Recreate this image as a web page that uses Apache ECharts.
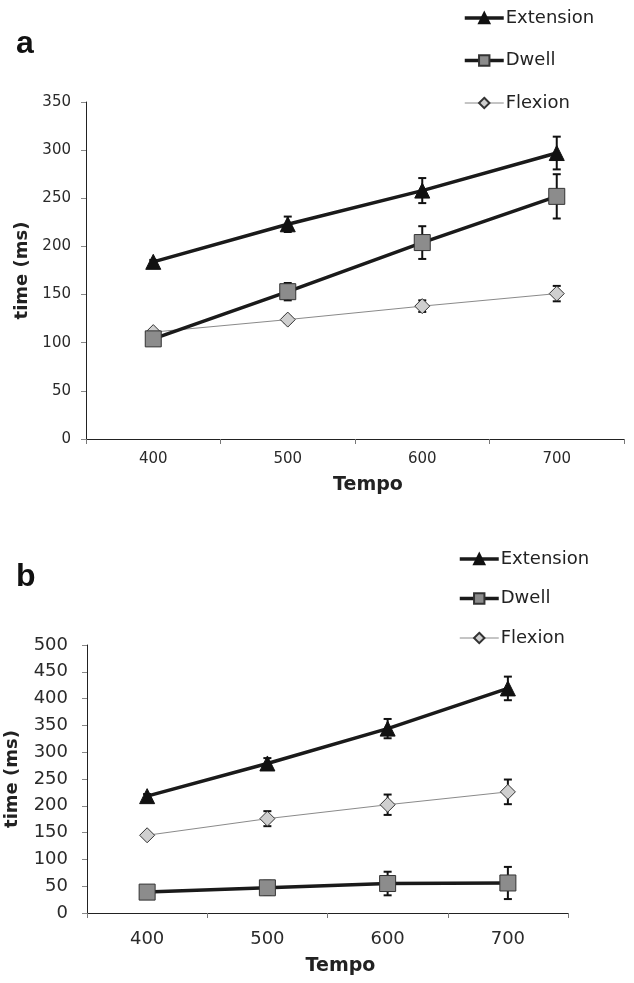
<!DOCTYPE html>
<html><head><meta charset="utf-8">
<script src="https://cdn.jsdelivr.net/npm/echarts@6/dist/echarts.min.js"></script>
<style>html,body{margin:0;padding:0;background:#fff}#c{width:634px;height:983px}</style>
</head><body><div id="c"></div>
<script>
const tempo = ['400', '500', '600', '700'];
const seriesNames = ['Extension', 'Dwell', 'Flexion'];
// panel a
const extA = [184, 223, 258, 297];
const extAErr = [2, 8, 13, 17];
const dwellA = [104, 153, 204, 252];
const dwellAErr = [2, 9, 17, 23];
const flexA = [111, 124, 138, 151];
const flexAErr = [2, 3, 6, 8];
// panel b
const extB = [218, 279, 344, 419];
const extBErr = [4, 10, 18, 22];
const dwellB = [39, 47, 55, 56];
const dwellBErr = [2, 13, 22, 30];
const flexB = [145, 176, 202, 226];
const flexBErr = [2, 14, 19, 23];

const FONT = 'DejaVu Sans';
const styles = {
  Extension: {symbol: 'triangle', symbolSize: 15, color: '#111', border: '#111', width: 3.5, lineColor: '#1a1a1a'},
  Dwell: {symbol: 'rect', symbolSize: 16, color: '#8c8c8c', border: '#333', width: 3.5, lineColor: '#1a1a1a'},
  Flexion: {symbol: 'diamond', symbolSize: 15, color: '#cfcfcf', border: '#333', width: 1, lineColor: '#8a8a8a'}
};

function lineSeries(name, data, gi) {
  const s = styles[name];
  return {
    name: name, type: 'line', xAxisIndex: gi, yAxisIndex: gi, data: data,
    symbol: s.symbol, symbolSize: s.symbolSize, z: 3,
    lineStyle: {color: s.lineColor, width: s.width},
    itemStyle: {color: s.color, borderColor: s.border, borderWidth: 1},
    emphasis: {disabled: true}, animation: false
  };
}
function errSeries(vals, errs, gi) {
  return {
    type: 'custom', xAxisIndex: gi, yAxisIndex: gi, z: 2, animation: false,
    data: vals.map((v, i) => [i, v - errs[i], v + errs[i]]),
    renderItem: function (params, api) {
      const lo = api.coord([api.value(0), api.value(1)]);
      const hi = api.coord([api.value(0), api.value(2)]);
      const w = 4;
      const st = {stroke: '#111', lineWidth: 2};
      return {type: 'group', children: [
        {type: 'line', shape: {x1: lo[0], y1: lo[1], x2: hi[0], y2: hi[1]}, style: st},
        {type: 'line', shape: {x1: lo[0] - w, y1: lo[1], x2: lo[0] + w, y2: lo[1]}, style: st},
        {type: 'line', shape: {x1: hi[0] - w, y1: hi[1], x2: hi[0] + w, y2: hi[1]}, style: st}
      ]};
    }
  };
}

function xAxis(gi, labelSize, margin, gap) {
  return {
    type: 'category', gridIndex: gi, data: tempo, boundaryGap: true,
    name: 'Tempo', nameLocation: 'middle', nameGap: gap,
    nameTextStyle: {fontFamily: FONT, fontWeight: 'bold', fontSize: 19, color: '#222', padding: [0, 0, 0, 26]},
    axisLine: {lineStyle: {color: '#222', width: 1}},
    axisTick: {show: true, length: 5, lineStyle: {color: '#777'}},
    axisLabel: {fontFamily: FONT, fontSize: labelSize, color: '#2a2a2a', margin: margin},
    splitLine: {show: false}
  };
}
function yAxis(gi, max, labelSize, margin, gap) {
  return {
    type: 'value', gridIndex: gi, min: 0, max: max, interval: 50,
    name: 'time (ms)', nameLocation: 'middle', nameGap: gap, nameRotate: 90,
    nameTextStyle: {fontFamily: FONT, fontWeight: 'bold', fontSize: 18, color: '#222'},
    axisLine: {show: true, lineStyle: {color: '#222', width: 1}},
    axisTick: {show: true, length: 5, lineStyle: {color: '#888'}},
    axisLabel: {fontFamily: FONT, fontSize: labelSize, color: '#2a2a2a', margin: margin},
    splitLine: {show: false}
  };
}
function legend(left, top, gap) {
  return {
    data: seriesNames.map(n => ({name: n, lineStyle: {width: styles[n].width, color: styles[n].lineColor}})),
    orient: 'vertical', left: left, top: top, itemGap: gap, padding: 0,
    itemWidth: 39, itemHeight: 13, selectedMode: false,
    textStyle: {fontFamily: FONT, fontSize: 18, lineHeight: 20, color: '#222', padding: [0, 0, 0, -3]}
  };
}

const chart = echarts.init(document.getElementById('c'), null, {renderer: 'canvas'});
chart.setOption({
  backgroundColor: '#fff',
  animation: false,
  title: [
    {text: 'a', left: 11, top: 23, textStyle: {fontFamily: 'Liberation Sans', fontWeight: 'bold', fontSize: 32, color: '#111'}},
    {text: 'b', left: 11, top: 556, textStyle: {fontFamily: 'Liberation Sans', fontWeight: 'bold', fontSize: 32, color: '#111'}}
  ],
  legend: [legend(463, 8, 22.5), legend(458, 549, 19.5)],
  grid: [
    {left: 86, right: 10, top: 102, height: 337, outerBoundsMode: 'none', containLabel: false},
    {left: 87, right: 66, top: 645, height: 268, outerBoundsMode: 'none', containLabel: false}
  ],
  xAxis: [xAxis(0, 15, 13, 37), xAxis(1, 18, 17, 44)],
  yAxis: [yAxis(0, 350, 15, 15, 52), yAxis(1, 500, 18, 19, 66)],
  series: [
    errSeries(extA, extAErr, 0), errSeries(dwellA, dwellAErr, 0), errSeries(flexA, flexAErr, 0),
    lineSeries('Flexion', flexA, 0), lineSeries('Dwell', dwellA, 0), lineSeries('Extension', extA, 0),
    errSeries(extB, extBErr, 1), errSeries(dwellB, dwellBErr, 1), errSeries(flexB, flexBErr, 1),
    lineSeries('Flexion', flexB, 1), lineSeries('Dwell', dwellB, 1), lineSeries('Extension', extB, 1)
  ]
});
</script></body></html>
